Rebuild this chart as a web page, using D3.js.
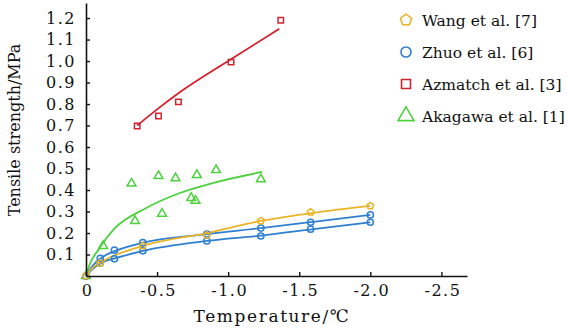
<!DOCTYPE html>
<html>
<head>
<meta charset="utf-8">
<script src="https://cdn.jsdelivr.net/npm/d3@7"></script>
<style>
  body { margin: 0; background: #fff; }
  text { font-family: "DejaVu Serif", serif; fill: #111; }
</style>
</head>
<body>
<script>
// series values: [temperature, tensile strength]
var wangPts = [[0, 0], [-0.1, 0.06], [-0.4, 0.14], [-0.85, 0.19], [-1.23, 0.256], [-1.58, 0.297], [-2.0, 0.326]];
var zhuoUpper = [[0, 0], [-0.1, 0.082], [-0.2, 0.12], [-0.4, 0.155], [-0.85, 0.195], [-1.23, 0.223], [-1.58, 0.25], [-2.0, 0.284]];
var zhuoLower = [[0, 0], [-0.1, 0.06], [-0.2, 0.08], [-0.4, 0.117], [-0.85, 0.163], [-1.23, 0.186], [-1.58, 0.218], [-2.0, 0.25]];
var azmatchPts = [[-0.36, 0.698], [-0.51, 0.744], [-0.65, 0.81], [-1.02, 0.995], [-1.37, 1.19]];
var azmatchFit = [[-0.36, 0.70], [-0.5, 0.775], [-0.65, 0.85], [-1.0, 1.0], [-1.36, 1.15]];
var akagawaPts = [[0, 0], [-0.12, 0.14], [-0.345, 0.256], [-0.535, 0.29], [-0.32, 0.43], [-0.51, 0.465], [-0.63, 0.455],
  [-0.78, 0.47], [-0.915, 0.493], [-1.23, 0.45], [-0.74, 0.363], [-0.77, 0.35]];
var akagawaFit = [[0, 0], [-0.03, 0.06], [-0.085, 0.12], [-0.2, 0.22], [-0.42, 0.315], [-0.66, 0.386], [-0.89, 0.432], [-1.24, 0.484]];
// smooth trend lines drawn under the Wang / Zhuo points
var wangFit = [[0, 0], [-0.05, 0.04], [-0.12, 0.07], [-0.4, 0.14], [-0.85, 0.2], [-1.23, 0.256], [-1.6, 0.294], [-2.0, 0.326]];
var zhuoUpperFit = [[0, 0], [-0.05, 0.05], [-0.12, 0.09], [-0.22, 0.12], [-0.4, 0.155], [-0.85, 0.195], [-1.23, 0.223], [-1.6, 0.252], [-2.0, 0.284]];
var zhuoLowerFit = [[0, 0], [-0.05, 0.035], [-0.12, 0.065], [-0.22, 0.085], [-0.4, 0.117], [-0.85, 0.163], [-1.23, 0.188], [-1.6, 0.218], [-2.0, 0.25]];

var xTicks = [0, -0.5, -1.0, -1.5, -2.0, -2.5];
var yTicks = [0.1, 0.2, 0.3, 0.4, 0.5, 0.6, 0.7, 0.8, 0.9, 1.0, 1.1, 1.2];
var legendNames = ["Wang et al. [7]", "Zhuo et al. [6]", "Azmatch et al. [3]", "Akagawa et al. [1]"];

var yellow = "#e9b428", blue = "#2f7fd0", red = "#d3222e", green = "#4ed13f";

var width = 567, height = 329;
var x = d3.scaleLinear().domain([0, -2.68]).range([86, 467]);
var y = d3.scaleLinear().domain([0, 1.27]).range([276, 3]);

var svg = d3.select("body").append("svg")
  .attr("width", width)
  .attr("height", height);

// pentagon for the Wang series
var pentagon = {
  draw: function (ctx, size) {
    var r = Math.sqrt(size / 2.38);
    for (var i = 0; i < 5; i++) {
      var a = -Math.PI / 2 + i * 2 * Math.PI / 5;
      if (i === 0) ctx.moveTo(r * Math.cos(a), r * Math.sin(a));
      else ctx.lineTo(r * Math.cos(a), r * Math.sin(a));
    }
    ctx.closePath();
  }
};

var line = d3.line()
  .x(d => x(d[0]))
  .y(d => y(d[1]))
  .curve(d3.curveMonotoneX);

function drawLine(data, color) {
  svg.append("path")
    .attr("d", line(data))
    .attr("fill", "none")
    .attr("stroke", color)
    .attr("stroke-width", 1.8);
}

function drawPoints(data, type, size, color) {
  svg.append("g").selectAll("path").data(data)
    .enter().append("path")
    .attr("transform", d => "translate(" + x(d[0]) + "," + y(d[1]) + ")")
    .attr("d", d3.symbol().type(type).size(size))
    .attr("fill", "none")
    .attr("stroke", color)
    .attr("stroke-width", 1.5);
}

drawLine(akagawaFit, green);
drawLine(azmatchFit, red);
drawLine(zhuoLowerFit, blue);
drawLine(zhuoUpperFit, blue);
drawLine(wangFit, yellow);

drawPoints(akagawaPts, d3.symbolTriangle, 34, green);
drawPoints(azmatchPts, d3.symbolSquare, 30, red);
drawPoints(zhuoLower, d3.symbolCircle, 30, blue);
drawPoints(zhuoUpper, d3.symbolCircle, 30, blue);
drawPoints(wangPts, pentagon, 30, yellow);

// axes
var xAxis = svg.append("g")
  .attr("transform", "translate(0," + y(0) + ")")
  .call(d3.axisBottom(x).tickValues(xTicks).tickSizeInner(-4).tickSizeOuter(0).tickPadding(9)
    .tickFormat(d => d === 0 ? "0" : d.toFixed(1)));
var yAxis = svg.append("g")
  .attr("transform", "translate(" + x(0) + ",0)")
  .call(d3.axisLeft(y).tickValues(yTicks).tickSizeInner(-4).tickSizeOuter(0).tickPadding(10)
    .tickFormat(d => d.toFixed(1)));

[xAxis, yAxis].forEach(function (ax) {
  ax.attr("font-family", null).attr("font-size", null);
  ax.select(".domain").attr("stroke", "#111").attr("stroke-width", 1.6);
  ax.selectAll(".tick line").attr("stroke", "#111").attr("stroke-width", 1.4);
  ax.selectAll(".tick text")
    .style("font-size", "16px")
    .style("letter-spacing", "1.5px")
    .attr("fill", "#111");
});
xAxis.selectAll(".tick text").attr("dx", "1px");

svg.append("text")
  .attr("x", 272)
  .attr("y", 322)
  .attr("text-anchor", "middle")
  .style("font-size", "17px")
  .style("letter-spacing", "1.6px")
  .text("Temperature/\u2103");

svg.append("text")
  .attr("transform", "translate(20,130) rotate(-90)")
  .attr("text-anchor", "middle")
  .style("font-size", "16px")
  .text("Tensile strength/MPa");

// legend
var legendTypes = [pentagon, d3.symbolCircle, d3.symbolSquare, d3.symbolTriangle];
var legendColors = [yellow, blue, red, green];
var legend = svg.append("g").selectAll("g").data(legendNames)
  .enter().append("g")
  .attr("transform", (d, i) => "translate(406," + (20 + i * 32) + ")");
legend.append("path")
  .attr("d", (d, i) => d3.symbol().type(legendTypes[i]).size(i === 3 ? 110 : 80)())
  .attr("fill", "none")
  .attr("stroke", (d, i) => legendColors[i])
  .attr("stroke-width", 1.6);
legend.append("text")
  .attr("x", 16)
  .attr("y", 6)
  .style("font-size", "15.5px")
  .text(d => d);
</script>
</body>
</html>
